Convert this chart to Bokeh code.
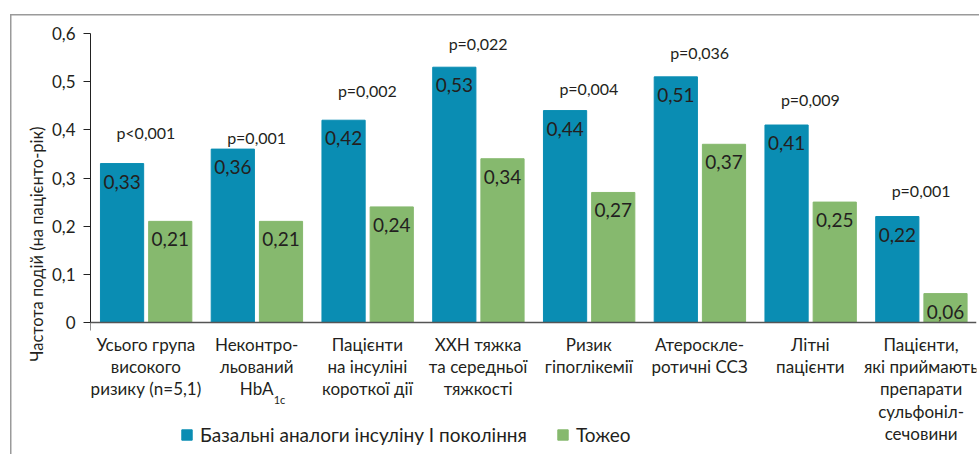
from bokeh.plotting import figure
from bokeh.models import (FactorRange, ColumnDataSource, Span, FixedTicker,
                          Legend, LegendItem)
from bokeh.transform import dodge
from bokeh.core.properties import value
from bokeh.embed import file_html
from bokeh.resources import INLINE

# ---- data ----
categories = ["c1", "c2", "c3", "c4", "c5", "c6", "c7", "c8"]
cat_labels = [
    "Усього група\nвисокого\nризику (n=5,1)",
    "Неконтро-\nльований\nHbA",
    "Пацієнти\nна інсуліні\nкороткої дії",
    "ХХН тяжка\nта середньої\nтяжкості",
    "Ризик\nгіпоглікемії",
    "Атероскле-\nротичні ССЗ",
    "Літні\nпацієнти",
    "Пацієнти,\nякі приймають\nпрепарати\nсульфоніл-\nсечовини",
]
basal = [0.33, 0.36, 0.42, 0.53, 0.44, 0.51, 0.41, 0.22]
toujeo = [0.21, 0.21, 0.24, 0.34, 0.27, 0.37, 0.25, 0.06]
p_values = ["p<0,001", "p=0,001", "p=0,002", "p=0,022",
            "p=0,004", "p=0,036", "p=0,009", "p=0,001"]
p_label_y = [0.395, 0.385, 0.482, 0.579, 0.485, 0.561, 0.462, 0.274]
y_ticks = [0, 0.1, 0.2, 0.3, 0.4, 0.5, 0.6]
y_tick_labels = ["0", "0,1", "0,2", "0,3", "0,4", "0,5", "0,6"]
series_names = ["Базальні аналоги інсуліну І покоління", "Тожео"]

BLUE = "#0a8db3"
GREEN = "#86b96e"
TXT = "#231f20"
FRAME = "#9a9a9a"
AXIS = "#222222"
FONT = "Lato"

def fmt(v):
    return f"{v:.2f}".replace(".", ",")

src = ColumnDataSource(dict(
    cat=categories, lbl=cat_labels, basal=basal, toujeo=toujeo,
    basal_lbl=[fmt(v) for v in basal], toujeo_lbl=[fmt(v) for v in toujeo],
    p=p_values, py=p_label_y, zero=[0] * len(categories),
))

p = figure(x_range=FactorRange(*categories, range_padding=0),
           y_range=(-0.274, 0.6),
           width=979, height=454, output_backend="svg", toolbar_location=None,
           min_border_left=90, min_border_right=3, min_border_top=33,
           min_border_bottom=0,
           border_fill_color=None, background_fill_color=None)
p.x_range.range_padding = 0
p.xaxis.visible = False
p.xgrid.visible = False
p.ygrid.visible = False
p.outline_line_color = None
# thin grey frame (left and top) behind the chart, drawn by the page
p.styles = {
    "background-image": f"linear-gradient({FRAME}, {FRAME}), linear-gradient({FRAME}, {FRAME})",
    "background-size": "100% 1.5px, 1.5px 100%",
    "background-position": "10px 14px, 10px 14px",
    "background-repeat": "no-repeat",
}

yax = p.yaxis[0]
yax.ticker = FixedTicker(ticks=y_ticks)
yax.major_label_overrides = {t: l for t, l in zip(y_ticks, y_tick_labels)}
yax.bounds = (0, 0.6)
yax.minor_tick_line_color = None
yax.major_tick_in = 0
yax.major_tick_out = 7
yax.axis_line_color = AXIS
yax.major_tick_line_color = AXIS
yax.major_label_text_font = FONT
yax.major_label_text_font_size = "17px"
yax.major_label_text_color = TXT
yax.major_label_standoff = 8
yax.axis_label = "Частота подій (на пацієнто-рік)"
yax.axis_label_text_font = FONT
yax.axis_label_text_font_size = "16.5px"
yax.axis_label_text_font_style = "normal"
yax.axis_label_text_color = TXT
yax.axis_label_standoff = 2

# short extension of the y axis line below zero
p.segment(x0=dodge("x", -0.5, range=p.x_range), y0="y0",
          x1=dodge("x", -0.5, range=p.x_range), y1="y1",
          source=ColumnDataSource(dict(x=[categories[0]], y0=[0], y1=[-0.0166])),
          line_color=AXIS, line_width=1)

# x axis line at zero
p.add_layout(Span(location=0, dimension="width", line_color="#555555", line_width=1.5))

r1 = p.vbar(x=dodge("cat", -0.215, range=p.x_range), top="basal", width=0.39,
            source=src, color=BLUE)
r2 = p.vbar(x=dodge("cat", 0.22, range=p.x_range), top="toujeo", width=0.39,
            source=src, color=GREEN)

common = dict(text_font=value(FONT), text_color=TXT, text_align="center")
p.text(x=dodge("cat", -0.215, range=p.x_range), y="basal", text="basal_lbl",
       source=src, text_baseline="top", y_offset=11, text_font_size="19px", **common)
p.text(x=dodge("cat", 0.22, range=p.x_range), y="toujeo", text="toujeo_lbl",
       source=src, text_baseline="top", y_offset=11, text_font_size="19px", **common)
p.text(x="cat", y="py", text="p", source=src, text_baseline="middle",
       text_font_size="16px", **common)
p.text(x="cat", y="zero", text="lbl", source=src, text_baseline="top",
       y_offset=11, text_font_size="17px", text_line_height=1.07, **common)
# subscript of HbA1c
p.text(x=[categories[1]], y=[0], text=["1c"], x_offset=17, y_offset=70,
       text_font=value(FONT), text_color=TXT, text_align="left",
       text_baseline="top", text_font_size="11px")

legend = Legend(items=[LegendItem(label=series_names[0], renderers=[r1]),
                       LegendItem(label=series_names[1], renderers=[r2])],
                orientation="horizontal", location=(90, 8), padding=0, margin=0,
                spacing=29, glyph_width=13, glyph_height=13, label_standoff=7,
                label_height=13, label_text_font=FONT, label_text_font_size="19px",
                label_text_color=TXT, border_line_color=None,
                background_fill_alpha=0)
p.add_layout(legend)

open("out.html", "w").write(file_html(p, INLINE))
